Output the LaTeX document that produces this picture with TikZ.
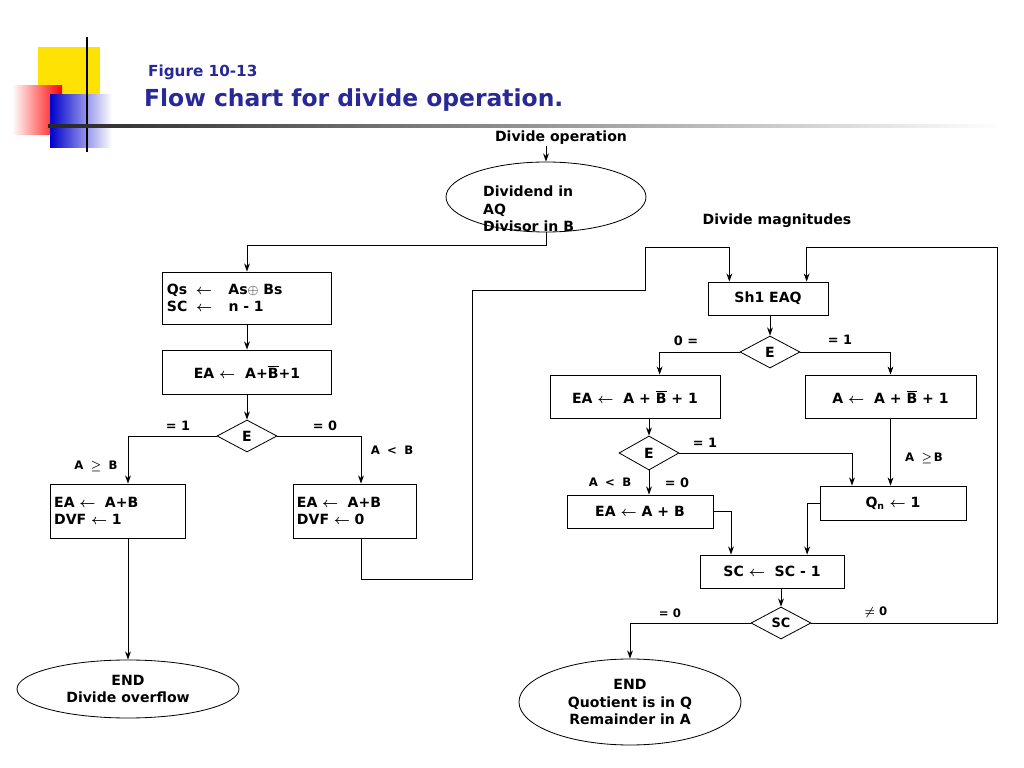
\documentclass[tikz,border=0pt]{standalone}
\usepackage{amsmath}
\usepackage{fontspec}
\setmainfont{DejaVu Sans}
\usetikzlibrary{shapes.geometric,arrows.meta}
\definecolor{titleblue}{RGB}{40,40,150}
\newcommand{\Bbar}{$\overline{\mbox{B}}$}
\newcommand{\la}{$\boldsymbol{\leftarrow}$}

\begin{document}
\begin{tikzpicture}[x=0.03cm,y=-0.03cm,
    every node/.style={font=\bfseries\fontsize{12}{15}\selectfont},
    box/.style={draw,line width=0.7pt,inner sep=2pt,minimum height=0.99cm},
    test/.style={draw,line width=0.7pt,diamond,inner sep=0,minimum width=1.8cm,minimum height=0.96cm},
    term/.style={draw,line width=0.7pt,ellipse,inner sep=0,align=center},
    lbl/.style={inner sep=1pt,font=\bfseries\fontsize{10}{12}\selectfont},
    flow/.style={draw,line width=0.7pt,-{Stealth[length=7pt,width=5pt]}},
    ]
    \useasboundingbox (0,0) rectangle (1024,768);
    %%% header decoration
    \fill[yellow!85!orange] (38,47) rectangle (100,95);
    \shade[left color=white,right color=red] (12,86) rectangle (62,135);
    \shade[left color=blue!80!black,right color=white] (50,95) rectangle (112,148);
    \draw[line width=2.5pt] (87,37) -- (87,152);
    \shade[left color=black!85,right color=white] (48,124.5) rectangle (1000,127.5);
    \node[anchor=west,text=titleblue,font=\bfseries\fontsize{13}{15}\selectfont] (fig) at (144,72) {Figure 10-13};
    \node[anchor=west,text=titleblue,font=\bfseries\fontsize{20}{24}\selectfont] (title) at (140,100) {Flow chart for divide operation.};
    %%% left part
    \node[inner sep=1pt] (op) at (561,138) {Divide operation};
    \node[term,minimum width=6cm,minimum height=2.1cm] (start) at (546,197) {};
    \node[anchor=west,align=left,inner sep=0] (starttxt) at (483,209) {Dividend in\\AQ\\Divisor in B};
    \node[box,align=left,text width=4.8cm,minimum width=5.07cm,minimum height=1.56cm] (sign) at (247,298)
        {Qs \;\la\;\;\; As$\oplus$ Bs\\SC \;\la\;\;\; n - 1};
    \node[box,minimum width=5.07cm,minimum height=1.32cm] (comp) at (247,372) {EA \la\ \ A+\Bbar+1};
    \node[test] (chk) at (247,436) {E};
    \node[box,align=left,text width=3.8cm,minimum width=4.05cm,minimum height=1.62cm] (ovf) at (117.5,511) {EA \la\ \ A+B\\DVF \la\ 1};
    \node[box,align=left,text width=3.45cm,minimum width=3.69cm,minimum height=1.62cm] (noovf) at (354.5,511) {EA \la\ \ A+B\\DVF \la\ 0};
    \node[term,minimum width=6.66cm,minimum height=1.74cm] (endovf) at (128,689) {END\\Divide overflow};
    %%% right part
    \node[inner sep=1pt] (mag) at (777,221) {Divide magnitudes};
    \node[box,minimum width=3.6cm] (shl) at (768,298.5) {Sh1 EAQ};
    \node[test] (ebit) at (770,352) {E};
    \node[box,minimum width=5.1cm,minimum height=1.29cm] (sub0) at (635,396.5) {EA \la\ \ A + \Bbar\ + 1};
    \node[box,minimum width=5.13cm,minimum height=1.29cm] (sub1) at (890.5,396.5) {A \la\ \ A + \Bbar\ + 1};
    \node[test,minimum height=1.02cm] (ebit2) at (649,453) {E};
    \node[box,minimum width=4.38cm] (rest) at (640,511.5) {EA \la\ A + B};
    \node[box,minimum width=4.38cm,minimum height=1.02cm] (qbit) at (893,503) {Q$_{\mbox{\fontsize{8}{8}\selectfont\bfseries n}}$ \la\ 1};
    \node[box,minimum width=4.32cm] (cnt) at (772,571.5) {SC \la\ \ SC - 1};
    \node[test,font=\bfseries\fontsize{11}{13}\selectfont] (zero) at (781,623) {SC};
    \node[term,minimum width=6.66cm,minimum height=2.58cm] (endq) at (630,702) {END\\Quotient is in Q\\Remainder in A};
    %%% bend points
    \coordinate (c1) at (546,245);
    \coordinate (c2) at (361,579);
    \coordinate (c3) at (472,579);
    \coordinate (c4) at (472,290);
    \coordinate (c5) at (645,290);
    \coordinate (c6) at (645,247);
    \coordinate (c7) at (997,623);
    \coordinate (c8) at (997,247);
    %%% labels
    \node[lbl,font=\bfseries\fontsize{11}{13}\selectfont] (l1) at (178,426) {= 1};
    \node[lbl,font=\bfseries\fontsize{11}{13}\selectfont] (l2) at (325,426) {= 0};
    \node[lbl] (l3) at (96,466) {A \;$\boldsymbol{\geq}$\; B};
    \node[lbl] (l4) at (392,450) {A \;<\; B};
    \node[lbl,font=\bfseries\fontsize{11}{13}\selectfont] (l5) at (686,341) {0 =};
    \node[lbl,font=\bfseries\fontsize{11}{13}\selectfont] (l6) at (840,340) {= 1};
    \node[lbl,font=\bfseries\fontsize{11}{13}\selectfont] (l7) at (705,443) {= 1};
    \node[lbl] (l8) at (610,482) {A \;<\; B};
    \node[lbl,font=\bfseries\fontsize{11}{13}\selectfont] (l9) at (677,483) {= 0};
    \node[lbl] (l10) at (924,458) {A \;$\boldsymbol{\geq}$\,B};
    \node[lbl] (l11) at (670,613) {= 0};
    \node[lbl] (l12) at (876,612) {$\boldsymbol{\neq}$ 0};
    %%% connectors
    \path[flow] (start.north |- op.south) -- (start.north);
    \path[flow] (start.south) -- (c1) -| (sign.north);
    \path[flow] (sign) -- (comp);
    \path[flow] (comp) -- (chk);
    \path[flow] (chk.west) -| (endovf.north |- ovf.north);
    \path[flow] (chk.east) -| (c2 |- noovf.north);
    \path[flow] (endovf.north |- ovf.south) -- (endovf.north);
    \path[flow] (c2 |- noovf.south) -- (c2) -- (c3) -- (c4) -- (c5) -- (c6) -| ([xshift=-33]shl.north);
    \path[flow] (zero.east) -- (c7) -- (c8) -| ([xshift=33]shl.north);
    \path[flow] (ebit.north |- shl.south) -- (ebit);
    \path[flow] (ebit.west) -| ([xshift=21]sub0.north);
    \path[flow] (ebit.east) -| (sub1.north);
    \path[flow] (ebit2.north |- sub0.south) -- (ebit2.north);
    \path[flow] (ebit2.east) -| ([xshift=-35]qbit.north);
    \path[flow] (ebit2.south) -- (ebit2.south |- rest.north);
    \path[flow] (sub1.south) -- (sub1.south |- qbit.north);
    \path[flow] (rest.east) -| ([xshift=-35]cnt.north);
    \path[flow] (qbit.west) -| ([xshift=30]cnt.north);
    \path[flow] (zero.north |- cnt.south) -- (zero.north);
    \path[flow] (zero.west) -| (endq.north);
\end{tikzpicture}
\end{document}
